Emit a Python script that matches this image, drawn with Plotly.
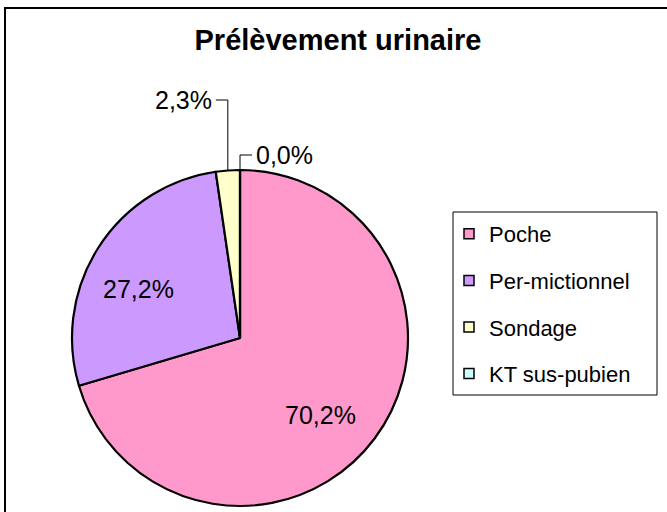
import math
import plotly.graph_objects as go

# ---- data ----
categories = ["Poche", "Per-mictionnel", "Sondage", "KT sus-pubien"]
values = [70.2, 27.2, 2.3, 0.0]
colors = ["#FF99CC", "#CC99FF", "#FFFFCC", "#CCFFFF"]
title_text = "Prélèvement urinaire"

W, H = 667, 512
FONT = "Liberation Sans, Arial, sans-serif"

def fx(px):
    return px / W

def fy(py):
    return 1 - py / H

# pie geometry (pixels)
CX, CY, R = 240, 338, 168
INSIDE_FRAC = 0.66
INSIDE_SHIFT = (-8, -11)  # px (x right, y up)

labels_txt = [f"{v:.1f}".replace(".", ",") + "%" for v in values]

fig = go.Figure()
fig.add_trace(go.Pie(
    labels=categories,
    values=values,
    text=labels_txt,
    textinfo="none",
    marker=dict(colors=colors, line=dict(color="black", width=2.2)),
    sort=False,
    direction="clockwise",
    rotation=0,
    showlegend=False,
    hoverinfo="label+text",
    domain=dict(x=[fx(CX - R), fx(CX + R)], y=[fy(CY + R), fy(CY - R)]),
))

# legend entries via invisible scatter markers
for i, (cat, col) in enumerate(zip(categories, colors)):
    fig.add_trace(go.Scatter(
        x=[None], y=[None], mode="markers", name=cat,
        legendgroup=f"g{i}",
        marker=dict(symbol="square", size=10, color=col,
                    line=dict(color="black", width=1.5)),
    ))

# labels: inside for big slices, leader lines for small slices
total = sum(values)
cum = 0.0
leader_cfg = {2: dict(label_y=100, side=-1), 3: dict(label_y=155, side=1)}
shapes = []
annotations = []
for i, v in enumerate(values):
    mid = (cum + v / 2) / total * 2 * math.pi
    cum += v
    if i not in leader_cfg:
        lx = CX + INSIDE_FRAC * R * math.sin(mid)
        ly = CY - INSIDE_FRAC * R * math.cos(mid)
        annotations.append(dict(
            x=fx(lx), y=fy(ly), xref="paper", yref="paper",
            xshift=INSIDE_SHIFT[0], yshift=INSIDE_SHIFT[1],
            text=labels_txt[i], showarrow=False,
            xanchor="center", yanchor="middle",
            font=dict(family=FONT, size=25, color="black"),
        ))
        continue
    cfg = leader_cfg[i]
    ex = CX + R * math.sin(mid)
    ey = CY - R * math.cos(mid)
    ly = cfg["label_y"]
    hx = ex + cfg["side"] * 12
    path = f"M {fx(ex)} {fy(ey)} L {fx(ex)} {fy(ly)} L {fx(hx)} {fy(ly)}"
    shapes.append(dict(type="path", path=path, xref="paper", yref="paper",
                       line=dict(color="black", width=1)))
    annotations.append(dict(
        x=fx(hx + cfg["side"] * 2), y=fy(ly), xref="paper", yref="paper",
        text=labels_txt[i], showarrow=False,
        xanchor="right" if cfg["side"] < 0 else "left", yanchor="middle",
        font=dict(family=FONT, size=25, color="black"),
    ))

# outer chart border
shapes.append(dict(type="rect", xref="paper", yref="paper",
                   x0=fx(5), y0=-0.05, x1=1.05, y1=fy(8),
                   line=dict(color="black", width=2), fillcolor="rgba(0,0,0,0)"))
# legend box
shapes.append(dict(type="rect", xref="paper", yref="paper",
                   x0=fx(453), y0=fy(395), x1=fx(657), y1=fy(212),
                   line=dict(color="black", width=1), fillcolor="rgba(0,0,0,0)"))

fig.update_layout(
    width=W, height=H,
    margin=dict(l=0, r=0, t=0, b=0),
    paper_bgcolor="white", plot_bgcolor="white",
    title=dict(text=title_text, x=fx(338), xanchor="center",
               y=fy(40), yanchor="middle", yref="container",
               font=dict(family=FONT, size=29, color="black", weight="bold")),
    xaxis=dict(visible=False),
    yaxis=dict(visible=False),
    legend=dict(x=fx(449), y=fy(213), xanchor="left", yanchor="top",
                font=dict(family=FONT, size=22, color="black"),
                tracegroupgap=15, bgcolor="rgba(0,0,0,0)",
                borderwidth=0, itemclick=False, itemdoubleclick=False),
    shapes=shapes,
    annotations=annotations,
    showlegend=True,
)

fig.write_html("out.html",
               config={"displayModeBar": False},
               post_script="document.body.style.margin='0';"
                           "document.body.style.padding='0';")
